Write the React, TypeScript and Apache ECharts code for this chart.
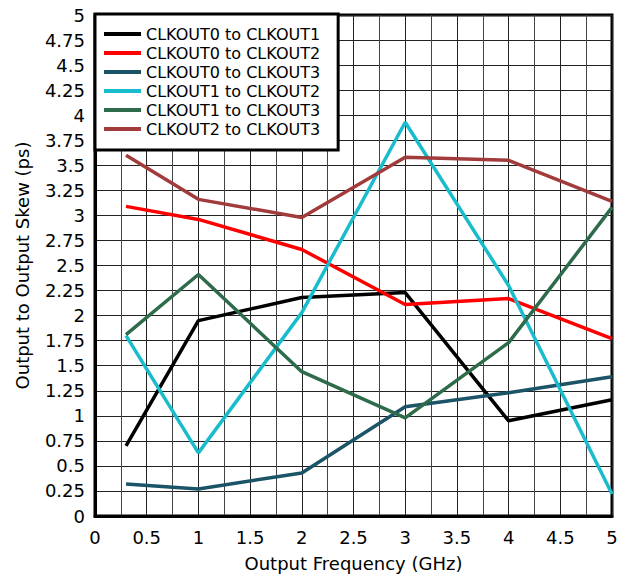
import React, { useEffect, useRef } from "react";
import * as echarts from "echarts";

const freqs = [0.3, 1, 2, 3, 4, 5];
const clk0to1 = [0.7, 1.95, 2.18, 2.23, 0.95, 1.16];
const clk0to2 = [3.09, 2.96, 2.66, 2.11, 2.17, 1.77];
const clk0to3 = [0.32, 0.27, 0.43, 1.09, 1.23, 1.39];
const clk1to2 = [1.8, 0.63, 2.03, 3.93, 2.3, 0.22];
const clk1to3 = [1.81, 2.41, 1.44, 0.98, 1.73, 3.08];
const clk2to3 = [3.6, 3.16, 2.98, 3.58, 3.55, 3.14];

const seriesNames = [
  "CLKOUT0 to CLKOUT1",
  "CLKOUT0 to CLKOUT2",
  "CLKOUT0 to CLKOUT3",
  "CLKOUT1 to CLKOUT2",
  "CLKOUT1 to CLKOUT3",
  "CLKOUT2 to CLKOUT3",
];
const seriesValues = [clk0to1, clk0to2, clk0to3, clk1to2, clk1to3, clk2to3];
const seriesColors = ["#000000", "#ff0000", "#1a5466", "#19bccc", "#2d6b4b", "#a23c3c"];

const FONT = "DejaVu Sans";

export default function App() {
  const ref = useRef<HTMLDivElement>(null);
  useEffect(() => {
    if (!ref.current) return;
    const chart = echarts.init(ref.current, null, { renderer: "svg" });
    chart.setOption({
      animation: false,
      backgroundColor: "#ffffff",
      grid: {
        left: 95,
        top: 15,
        right: 18,
        bottom: 59,
        show: true,
        borderColor: "#000",
        borderWidth: 3,
        backgroundColor: "transparent",
      },
      legend: {
        orient: "vertical",
        left: 95,
        top: 14,
        padding: [12, 18, 13, 9],
        backgroundColor: "#fff",
        borderColor: "#000",
        borderWidth: 3,
        borderRadius: 0,
        icon: "rect",
        itemWidth: 37,
        itemHeight: 4,
        itemGap: 3,
        itemTextGap: 12,
        textStyle: { fontFamily: FONT, fontSize: 16, color: "#000", lineHeight: 16 },
        data: seriesNames,
      },
      xAxis: {
        type: "value",
        min: 0,
        max: 5,
        interval: 0.5,
        name: "Output Frequency (GHz)",
        nameLocation: "middle",
        nameGap: 38,
        nameTextStyle: { fontFamily: FONT, fontSize: 18, color: "#000" },
        axisLine: { show: true, lineStyle: { color: "#000", width: 3 } },
        axisTick: { show: false },
        axisLabel: { fontFamily: FONT, fontSize: 18, color: "#000", margin: 12 },
        splitLine: { show: true, lineStyle: { color: "#222", width: 1 } },
        minorTick: { show: false, splitNumber: 2 },
        minorSplitLine: { show: true, lineStyle: { color: "#444", width: 1 } },
      },
      yAxis: {
        type: "value",
        min: 0,
        max: 5,
        interval: 0.25,
        name: "Output to Output Skew (ps)",
        nameLocation: "middle",
        nameGap: 64,
        nameTextStyle: { fontFamily: FONT, fontSize: 18, color: "#000" },
        axisLine: { show: true, lineStyle: { color: "#000", width: 3 } },
        axisTick: { show: false },
        axisLabel: { fontFamily: FONT, fontSize: 18, color: "#000", margin: 10 },
        splitLine: { show: true, lineStyle: { color: "#222", width: 1 } },
      },
      series: seriesNames.map((name, i) => ({
        name,
        type: "line",
        data: freqs.map((f, j) => [f, seriesValues[i][j]]),
        showSymbol: false,
        symbol: "none",
        color: seriesColors[i],
        lineStyle: { color: seriesColors[i], width: 3.5 },
      })),
    });
    return () => chart.dispose();
  }, []);
  return <div ref={ref} style={{ width: 630, height: 577, position: "absolute", left: 0, top: 0 }} />;
}
